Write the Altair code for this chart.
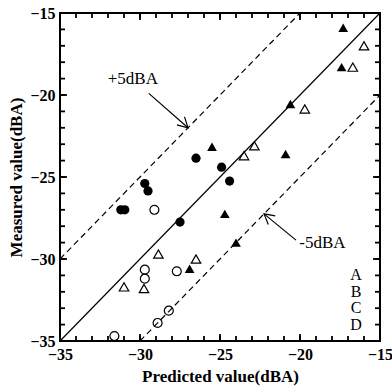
import altair as alt
import pandas as pd

# ---- data ----
a_x = [-31.2, -30.95, -29.7, -29.5, -26.5, -24.9, -24.4, -27.5]
a_y = [-27.0, -27.0, -25.4, -25.85, -23.85, -24.4, -25.25, -27.75]

b_x = [-29.1, -29.7, -29.7, -27.7, -28.2, -28.9, -31.6]
b_y = [-27.0, -30.65, -31.2, -30.75, -33.15, -33.9, -34.7]

c_x = [-28.85, -31.0, -29.75, -26.5, -23.5, -22.85, -19.7, -16.7, -16.0]
c_y = [-29.7, -31.7, -31.8, -30.0, -23.7, -23.1, -20.85, -18.3, -17.0]

d_x = [-17.3, -17.4, -20.6, -25.5, -20.9, -24.7, -24.0, -26.9]
d_y = [-15.9, -18.3, -20.55, -23.15, -23.6, -27.25, -29.0, -30.6]

line_eq_x = [-35, -15]
line_eq_y = [-35, -15]
line_p5_x = [-35, -20]
line_p5_y = [-30, -15]
line_m5_x = [-30, -15]
line_m5_y = [-35, -20]

arrow_p5_x = [-29.45, -27.0]
arrow_p5_y = [-19.9, -22.0]
arrow_m5_x = [-20.25, -22.25]
arrow_m5_y = [-28.85, -27.25]

notes = ["+5dBA", "-5dBA"]
notes_x = [-30.45, -18.6]
notes_y = [-19.05, -29.0]

letters = ["A", "B", "C", "D"]
letters_x = [-16.5, -16.5, -16.5, -16.5]
letters_y = [-31.0, -32.0, -33.0, -34.0]

major_ticks = [-35, -30, -25, -20, -15]
minor_ticks = list(range(-35, -14))

LO, HI = -35.0, -15.0
W, H = 320, 328
SERIF = "Liberation Serif"

xs = alt.Scale(domain=[LO, HI], nice=False, zero=False)
ys = alt.Scale(domain=[LO, HI], nice=False, zero=False)

xax = alt.Axis(values=major_ticks, ticks=False, domain=False, grid=False,
               labelFont=SERIF, labelFontSize=16, labelFontWeight="bold",
               labelColor="black", labelPadding=5, labelFlush=False,
               title="Predicted value(dBA)", titleFont=SERIF, titleFontSize=17,
               titleFontWeight="bold", titleColor="black", titlePadding=6)
yax = alt.Axis(values=major_ticks, ticks=False, domain=False, grid=False,
               labelFont=SERIF, labelFontSize=16, labelFontWeight="bold",
               labelColor="black", labelPadding=5, labelFlush=False,
               title="Measured value(dBA)", titleFont=SERIF, titleFontSize=17,
               titleFontWeight="bold", titleColor="black", titlePadding=4)

X = alt.X("x:Q", scale=xs)
Y = alt.Y("y:Q", scale=ys)


def seg(xv, yv, name):
    return pd.DataFrame({"x": xv, "y": yv, "g": name})


lines_df = seg(line_eq_x, line_eq_y, "eq")
dash_df = pd.concat([seg(line_p5_x, line_p5_y, "p5"), seg(line_m5_x, line_m5_y, "m5")])
arrow_df = pd.concat([seg(arrow_p5_x, arrow_p5_y, "p5"), seg(arrow_m5_x, arrow_m5_y, "m5")])
heads_df = pd.DataFrame({"x": [arrow_p5_x[1], arrow_m5_x[1]],
                         "y": [arrow_p5_y[1], arrow_m5_y[1]],
                         "ang": [43.5, 219.0]})

solid = alt.Chart(lines_df).mark_line(color="black", strokeWidth=1.2).encode(
    x=alt.X("x:Q", scale=xs, axis=xax), y=alt.Y("y:Q", scale=ys, axis=yax), detail="g:N")
dashed = alt.Chart(dash_df).mark_line(color="black", strokeWidth=1.2, strokeDash=[6, 4]).encode(
    x=X, y=Y, detail="g:N")
arrows = alt.Chart(arrow_df).mark_line(color="black", strokeWidth=1.2).encode(
    x=X, y=Y, detail="g:N")
heads = alt.Chart(heads_df).mark_point(
    shape="M -1 -0.55 L 0 0 L -1 0.55", filled=False, color="black",
    strokeWidth=1.2, size=400, opacity=1).encode(
    x=X, y=Y, angle=alt.Angle("ang:Q", scale=None))


def pts(xv, yv, shape, filled, size):
    df = pd.DataFrame({"x": xv, "y": yv})
    return alt.Chart(df).mark_point(shape=shape, filled=filled, color="black",
                                    strokeWidth=1.2, size=size, opacity=1).encode(x=X, y=Y)


pa = pts(a_x, a_y, "circle", True, 85)
pb = pts(b_x, b_y, "circle", False, 80)
pc = pts(c_x, c_y, "triangle-up", False, 90)
pd_ = pts(d_x, d_y, "triangle-up", True, 95)

notes_df = pd.DataFrame({"x": notes_x, "y": notes_y, "t": notes})
notes_layer = alt.Chart(notes_df).mark_text(font=SERIF, fontSize=17, color="black").encode(
    x=X, y=Y, text="t:N")
let_df = pd.DataFrame({"x": letters_x, "y": letters_y, "t": letters})
let_layer = alt.Chart(let_df).mark_text(font=SERIF, fontSize=16, color="black").encode(
    x=X, y=Y, text="t:N")


# inward ticks on all four sides, drawn as one-sided line symbols anchored on the frame
# (custom symbol paths are scaled by sqrt(size)/2 pixels per unit)
def tick_layer(vals, length_px):
    size = (2 * length_px) ** 2
    n = len(vals)
    sides = [
        (pd.DataFrame({"x": vals, "y": [LO] * n}), "M 0 0 L 0 -1"),   # bottom, pointing up
        (pd.DataFrame({"x": vals, "y": [HI] * n}), "M 0 0 L 0 1"),    # top, pointing down
        (pd.DataFrame({"x": [LO] * n, "y": vals}), "M 0 0 L 1 0"),    # left, pointing right
        (pd.DataFrame({"x": [HI] * n, "y": vals}), "M 0 0 L -1 0"),   # right, pointing left
    ]
    out = []
    for df, path in sides:
        out.append(alt.Chart(df).mark_point(shape=path, filled=False, color="black",
                                            strokeWidth=1.8, size=size, opacity=1).encode(x=X, y=Y))
    return out


chart = alt.layer(
    solid, dashed, arrows, heads, pa, pb, pc, pd_, notes_layer, let_layer,
    *tick_layer(minor_ticks, 5), *tick_layer(major_ticks, 7),
).properties(
    width=W, height=H,
    autosize=alt.AutoSizeParams(type="none"),
    padding={"left": 60, "top": 13, "right": 12, "bottom": 51},
    background="white",
).configure_view(stroke="black", strokeWidth=2)

chart.save("out.html", embed_options={"renderer": "svg", "actions": False})
